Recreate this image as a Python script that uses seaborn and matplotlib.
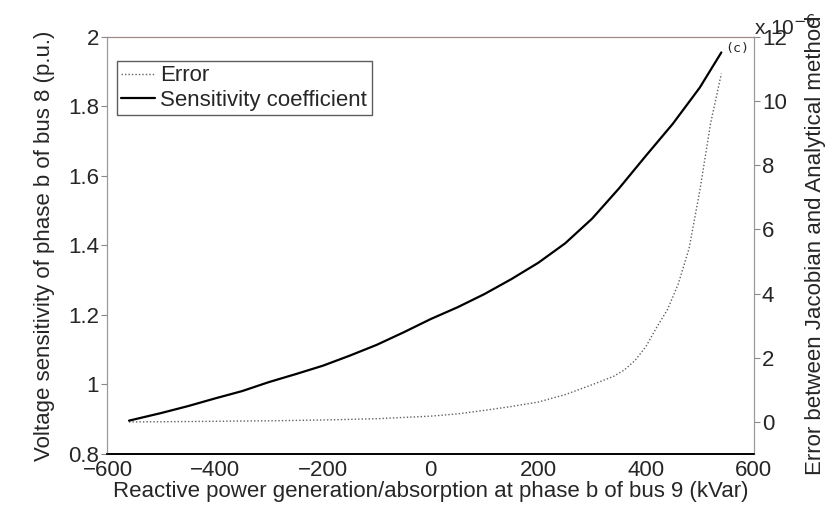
import matplotlib
matplotlib.use('Agg')
import matplotlib.pyplot as plt
import seaborn as sns
import pandas as pd

# sensitivity coefficient (left axis, p.u.)
sens_q = [-560, -500, -450, -400, -350, -300, -250, -200, -150, -100, -50,
          0, 50, 100, 150, 200, 250, 300, 350, 400, 450, 500, 540]
sens_val = [0.896, 0.918, 0.938, 0.960, 0.981, 1.007, 1.030, 1.054, 1.083, 1.114, 1.150,
            1.188, 1.222, 1.260, 1.303, 1.350, 1.406, 1.477, 1.564, 1.658, 1.750, 1.854, 1.955]

# error between Jacobian and analytical method (right axis, x 1e-6)
err_q = [-560, -500, -400, -300, -200, -100, 0, 50, 100, 150, 200, 250, 300, 340,
         360, 380, 400, 420, 440, 460, 480, 500, 520, 540]
err_val = [0.0, 0.005, 0.02, 0.035, 0.06, 0.10, 0.18, 0.25, 0.36, 0.48, 0.62, 0.85, 1.16, 1.42,
           1.62, 1.92, 2.35, 2.95, 3.5, 4.3, 5.4, 7.2, 9.3, 10.85]

x_ticks = [-600, -400, -200, 0, 200, 400, 600]
left_ticks = [0.8, 1, 1.2, 1.4, 1.6, 1.8, 2]
right_ticks = [0, 2, 4, 6, 8, 10, 12]

sens_df = pd.DataFrame({'q': sens_q, 'v': sens_val})
err_df = pd.DataFrame({'q': err_q, 'e': err_val})

sns.set_style('white')
plt.rcParams['font.family'] = ['Liberation Sans', 'DejaVu Sans']
plt.rcParams['axes.unicode_minus'] = True
fs = 16

fig = plt.figure(figsize=(8.3, 5.11), dpi=100)
ax = fig.add_axes([0.1295, 0.1115, 0.7785, 0.8165])
ax2 = ax.twinx()

sns.lineplot(data=sens_df, x='q', y='v', ax=ax, color='black', linewidth=1.6,
             label='Sensitivity coefficient', legend=False)
sns.lineplot(data=err_df, x='q', y='e', ax=ax2, color='#606060', linewidth=1.0,
             linestyle=(0, (1, 1.5)), label='Error', legend=False)

ax.set_xlim(-600, 600)
ax.set_ylim(0.8, 2)
ax2.set_ylim(-1, 12)
ax.set_xticks(x_ticks)
ax.set_yticks(left_ticks)
ax.set_yticklabels([f'{t:g}' for t in left_ticks])
ax2.set_yticks(right_ticks)

ax.set_xlabel('Reactive power generation/absorption at phase b of bus 9 (kVar)', fontsize=fs, labelpad=0)
ax.set_ylabel('Voltage sensitivity of phase b of bus 8 (p.u.)', fontsize=fs)
ax2.set_ylabel('Error between Jacobian and Analytical method', fontsize=fs)
ax.yaxis.set_label_coords(-0.082, 0.5)
ax2.yaxis.set_label_coords(1.08, 0.5)

ax.tick_params(axis='x', direction='in', length=4, pad=4, labelsize=fs, color='black')
ax.tick_params(axis='y', direction='out', length=4, pad=2, labelsize=fs, color='#888888', left=True)
ax2.tick_params(axis='y', direction='out', length=4, pad=2, labelsize=fs, color='#888888', right=True)

for a in (ax, ax2):
    a.spines['left'].set_color('#999999')
    a.spines['right'].set_color('#999999')
    a.spines['top'].set_color('#a08888')
    a.spines['bottom'].set_color('black')
    a.spines['bottom'].set_linewidth(1.2)
    for s in a.spines.values():
        s.set_visible(True)

ax2.annotate(r'x 10$^{-6}$', xy=(1.0, 1.0), xycoords='axes fraction',
             xytext=(0, 1), textcoords='offset points', fontsize=fs - 1, ha='left', va='baseline')

ax.annotate('(c)', xy=(sens_q[-1], sens_val[-1]), xytext=(3, 3), textcoords='offset points',
            fontsize=9.5, family='DejaVu Sans Mono', ha='left', va='center')

handles = ax2.get_lines()[:1] + ax.get_lines()[:1]
leg = ax.legend(handles, ['Error', 'Sensitivity coefficient'], loc='upper left',
                bbox_to_anchor=(0.0145, 0.942), fontsize=fs, frameon=True, fancybox=False,
                handlelength=1.5, handletextpad=0.25, borderpad=0.2, labelspacing=0.15,
                borderaxespad=0)
leg.get_frame().set_edgecolor('#333333')
leg.get_frame().set_linewidth(1.0)
ax.set_zorder(ax2.get_zorder() + 1)
ax.patch.set_visible(False)

fig.savefig('out.png', dpi=100)
